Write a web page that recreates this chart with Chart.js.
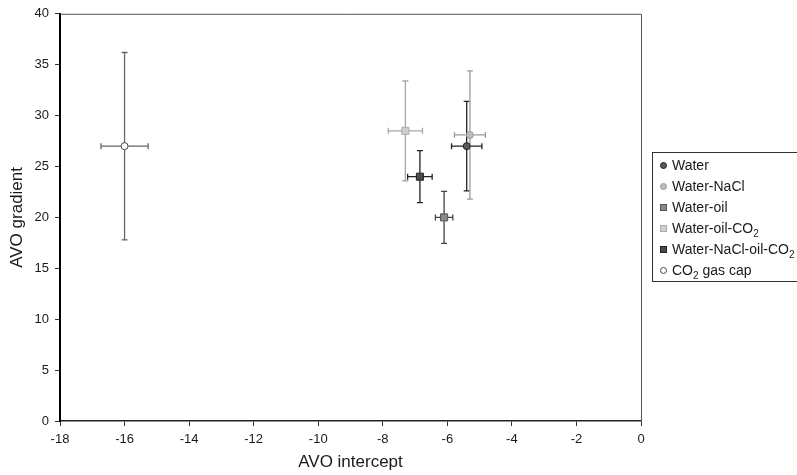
<!DOCTYPE html>
<html>
<head>
<meta charset="utf-8">
<title>AVO intercept vs gradient</title>
<script src="https://cdn.jsdelivr.net/npm/chart.js@4.4.1/dist/chart.umd.min.js"></script>
<style>
  html, body {
    margin: 0;
    padding: 0;
    background: #fff;
    overflow: hidden;
  }
  #wrap {
    position: relative;
    width: 797px;
    height: 475px;
  }
  #legend {
    position: absolute;
    left: 652px;
    top: 152px;
    width: 160px;
    height: 130px;
    border: 1px solid #333;
    box-sizing: border-box;
    padding-top: 2px;
    font-family: 'Liberation Sans', Arial, sans-serif;
    font-size: 14px;
    color: #1a1a1a;
  }
  .item {
    height: 21px;
    line-height: 21px;
    position: relative;
    padding-left: 19px;
    white-space: nowrap;
  }
  .item i {
    position: absolute;
    left: 7px;
    top: 7px;
    width: 5px;
    height: 5px;
    border: 1px solid #222;
  }
  .item sub {
    font-size: 10px;
    line-height: 0;
  }
</style>
</head>
<body>
<div id="wrap">
  <canvas id="avoChart" width="797" height="475"></canvas>
  <div id="legend"></div>
</div>
<script>
// fluid cases, AVO intercept / gradient with one standard deviation
const seriesNames = ['Water', 'Water-NaCl', 'Water-oil', 'Water-oil-CO₂', 'Water-NaCl-oil-CO₂', 'CO₂ gas cap']
const seriesHtml = ['Water', 'Water-NaCl', 'Water-oil', 'Water-oil-CO<sub>2</sub>', 'Water-NaCl-oil-CO<sub>2</sub>', 'CO<sub>2</sub> gas cap']
const intercept = [-5.4, -5.3, -6.1, -7.3, -6.85, -16.0]
const gradient = [27.0, 28.1, 20.0, 28.5, 24.0, 27.0]
const interceptErr = [0.47, 0.48, 0.27, 0.53, 0.38, 0.73]
const gradientErr = [4.4, 6.3, 2.55, 4.9, 2.55, 9.2]

const xTicks = [-18, -16, -14, -12, -10, -8, -6, -4, -2, 0]
const yTicks = [0, 5, 10, 15, 20, 25, 30, 35, 40]

const markerShape = ['circle', 'circle', 'rect', 'rect', 'rect', 'circle']
const markerFill = ['#5a5a5a', '#bdbdbd', '#8a8a8a', '#cfcfcf', '#4a4a4a', '#ffffff']
const markerEdge = ['#222', '#999', '#555', '#aaa', '#222', '#444']
const barColor = ['#222', '#9a9a9a', '#444', '#a8a8a8', '#222', '#666']

const FONT = "'Liberation Sans', Arial, sans-serif"

// error bars are drawn under the markers from the x/y scales
const errorBars = {
  id: 'errorBars',
  beforeDatasetsDraw(chart) {
    const { ctx, scales } = chart
    ctx.save()
    chart.data.datasets.forEach((ds, i) => {
      const pt = chart.getDatasetMeta(i).data[0]
      const d = ds.data[0]
      const x0 = scales.x.getPixelForValue(d.x - ds.xErr)
      const x1 = scales.x.getPixelForValue(d.x + ds.xErr)
      const y0 = scales.y.getPixelForValue(d.y + ds.yErr)
      const y1 = scales.y.getPixelForValue(d.y - ds.yErr)
      const cap = 3
      ctx.strokeStyle = ds.barColor
      ctx.lineWidth = 1.3
      ctx.beginPath()
      ctx.moveTo(x0, pt.y); ctx.lineTo(x1, pt.y)
      ctx.moveTo(x0, pt.y - cap); ctx.lineTo(x0, pt.y + cap)
      ctx.moveTo(x1, pt.y - cap); ctx.lineTo(x1, pt.y + cap)
      ctx.moveTo(pt.x, y0); ctx.lineTo(pt.x, y1)
      ctx.moveTo(pt.x - cap, y0); ctx.lineTo(pt.x + cap, y0)
      ctx.moveTo(pt.x - cap, y1); ctx.lineTo(pt.x + cap, y1)
      ctx.stroke()
    })
    ctx.restore()
  },
}

// top and right edges of the plot frame
const plotFrame = {
  id: 'plotFrame',
  afterDraw(chart) {
    const { ctx, chartArea: a } = chart
    ctx.save()
    ctx.strokeStyle = '#555'
    ctx.lineWidth = 1
    ctx.beginPath()
    ctx.moveTo(a.left, a.top + 0.5)
    ctx.lineTo(a.right + 0.5, a.top + 0.5)
    ctx.lineTo(a.right + 0.5, a.bottom)
    ctx.stroke()
    ctx.restore()
  },
}

const datasets = seriesNames.map((name, i) => ({
  label: name,
  data: [{ x: intercept[i], y: gradient[i] }],
  xErr: interceptErr[i],
  yErr: gradientErr[i],
  barColor: barColor[i],
  pointStyle: markerShape[i],
  pointRadius: markerShape[i] === 'rect' ? 5 : 3.5,
  pointBackgroundColor: markerFill[i],
  pointBorderColor: markerEdge[i],
  pointBorderWidth: 1,
}))

const ctx = document.getElementById('avoChart').getContext('2d')
new Chart(ctx, {
  type: 'scatter',
  data: { datasets },
  plugins: [errorBars, plotFrame],
  options: {
    responsive: false,
    animation: false,
    events: [],
    layout: { padding: { top: 12, right: 156, left: 0, bottom: 2 } },
    plugins: {
      legend: { display: false },
      tooltip: { enabled: false },
    },
    scales: {
      x: {
        type: 'linear',
        min: -18,
        max: 0,
        afterBuildTicks: (s) => { s.ticks = xTicks.map((v) => ({ value: v })) },
        afterFit: (s) => { s.height = 52 },
        grid: { drawOnChartArea: false, drawTicks: true, tickLength: 5, color: '#333' },
        border: { display: true, color: '#222', width: 1.5 },
        ticks: { color: '#1a1a1a', padding: 6, font: { family: FONT, size: 13 } },
        title: {
          display: true,
          text: 'AVO intercept',
          color: '#1a1a1a',
          padding: { top: 0, bottom: 0 },
          font: { family: FONT, size: 17 },
        },
      },
      y: {
        type: 'linear',
        min: 0,
        max: 40,
        afterBuildTicks: (s) => { s.ticks = yTicks.map((v) => ({ value: v })) },
        afterFit: (s) => { s.width = 60 },
        grid: { drawOnChartArea: false, drawTicks: true, tickLength: 5, color: '#333' },
        border: { display: true, color: '#000', width: 2 },
        ticks: { color: '#1a1a1a', padding: 6, font: { family: FONT, size: 13 } },
        title: {
          display: true,
          text: 'AVO gradient',
          color: '#1a1a1a',
          padding: { top: 7, bottom: 0 },
          font: { family: FONT, size: 17 },
        },
      },
    },
  },
})

// legend box beside the plot
const legendEl = document.getElementById('legend')
seriesHtml.forEach((html, i) => {
  const row = document.createElement('div')
  row.className = 'item'
  const mark = document.createElement('i')
  mark.style.background = markerFill[i]
  mark.style.borderColor = markerEdge[i]
  if (markerShape[i] === 'circle') mark.style.borderRadius = '50%'
  row.appendChild(mark)
  row.insertAdjacentHTML('beforeend', html)
  legendEl.appendChild(row)
})
</script>
</body>
</html>
